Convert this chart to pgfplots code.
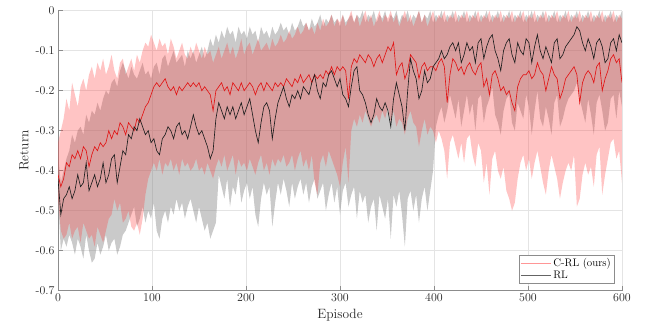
\documentclass[border=0pt]{standalone}
\usepackage{pgfplots}
\usepackage{pgfplotstable}
\pgfplotsset{compat=1.18}
\usepgfplotslibrary{fillbetween}
\definecolor{redfill}{RGB}{255,60,60}
\definecolor{grayfill}{RGB}{128,128,128}
\definecolor{redline}{RGB}{225,20,20}
\definecolor{blkline}{RGB}{30,30,30}
\definecolor{gridc}{RGB}{228,228,228}
\definecolor{axc}{RGB}{140,140,140}
\definecolor{legred}{RGB}{255,150,150}
\definecolor{leggray}{RGB}{100,100,100}
\pgfplotstableread{
x rm ru rl km ku kl
0 -0.41 -0.33 -0.47 -0.42 -0.36 -0.46
3 -0.44 -0.30 -0.55 -0.51 -0.43 -0.60
6 -0.42 -0.27 -0.57 -0.47 -0.40 -0.57
9 -0.38 -0.22 -0.56 -0.46 -0.37 -0.59
12 -0.39 -0.25 -0.53 -0.44 -0.35 -0.56
15 -0.36 -0.18 -0.57 -0.47 -0.31 -0.58
18 -0.37 -0.21 -0.55 -0.45 -0.33 -0.61
21 -0.35 -0.24 -0.54 -0.41 -0.30 -0.57
24 -0.37 -0.19 -0.58 -0.44 -0.29 -0.59
27 -0.34 -0.17 -0.53 -0.43 -0.31 -0.62
30 -0.35 -0.20 -0.55 -0.38 -0.26 -0.56
33 -0.39 -0.16 -0.57 -0.45 -0.28 -0.60
36 -0.36 -0.14 -0.56 -0.43 -0.25 -0.63
39 -0.34 -0.17 -0.59 -0.41 -0.26 -0.62
42 -0.35 -0.13 -0.54 -0.44 -0.23 -0.58
45 -0.33 -0.15 -0.56 -0.42 -0.25 -0.61
48 -0.34 -0.12 -0.58 -0.38 -0.22 -0.59
51 -0.33 -0.16 -0.55 -0.43 -0.20 -0.56
54 -0.30 -0.14 -0.52 -0.41 -0.21 -0.60
57 -0.32 -0.11 -0.51 -0.37 -0.18 -0.58
60 -0.30 -0.15 -0.47 -0.36 -0.17 -0.57
63 -0.31 -0.17 -0.50 -0.43 -0.19 -0.61
66 -0.28 -0.13 -0.48 -0.39 -0.15 -0.59
69 -0.29 -0.12 -0.53 -0.35 -0.13 -0.56
72 -0.31 -0.16 -0.52 -0.36 -0.15 -0.55
75 -0.28 -0.14 -0.50 -0.31 -0.17 -0.53
78 -0.29 -0.12 -0.54 -0.32 -0.14 -0.51
81 -0.30 -0.15 -0.55 -0.29 -0.16 -0.49
84 -0.27 -0.11 -0.53 -0.30 -0.17 -0.54
87 -0.28 -0.13 -0.56 -0.27 -0.15 -0.52
90 -0.26 -0.10 -0.52 -0.29 -0.13 -0.49
93 -0.24 -0.08 -0.46 -0.31 -0.16 -0.53
96 -0.23 -0.09 -0.42 -0.30 -0.15 -0.50
99 -0.21 -0.06 -0.40 -0.33 -0.17 -0.52
102 -0.19 -0.08 -0.38 -0.32 -0.14 -0.48
105 -0.18 -0.10 -0.40 -0.35 -0.13 -0.55
108 -0.19 -0.07 -0.37 -0.36 -0.16 -0.57
111 -0.18 -0.09 -0.41 -0.32 -0.12 -0.52
114 -0.17 -0.08 -0.38 -0.31 -0.11 -0.50
117 -0.19 -0.11 -0.39 -0.29 -0.14 -0.53
120 -0.20 -0.07 -0.37 -0.30 -0.12 -0.49
123 -0.19 -0.09 -0.40 -0.32 -0.10 -0.51
126 -0.21 -0.12 -0.38 -0.29 -0.13 -0.47
129 -0.19 -0.10 -0.41 -0.28 -0.12 -0.50
132 -0.20 -0.08 -0.37 -0.31 -0.11 -0.48
135 -0.19 -0.11 -0.39 -0.30 -0.14 -0.52
138 -0.18 -0.12 -0.38 -0.32 -0.10 -0.49
141 -0.19 -0.09 -0.40 -0.29 -0.12 -0.47
144 -0.18 -0.11 -0.39 -0.26 -0.10 -0.50
147 -0.19 -0.08 -0.37 -0.29 -0.13 -0.53
150 -0.18 -0.10 -0.40 -0.31 -0.11 -0.49
153 -0.20 -0.12 -0.39 -0.30 -0.09 -0.52
156 -0.19 -0.09 -0.41 -0.32 -0.12 -0.55
159 -0.20 -0.11 -0.38 -0.34 -0.10 -0.53
162 -0.21 -0.10 -0.40 -0.37 -0.07 -0.57
165 -0.25 -0.13 -0.42 -0.35 -0.09 -0.55
168 -0.20 -0.11 -0.39 -0.27 -0.06 -0.53
171 -0.19 -0.09 -0.37 -0.23 -0.08 -0.41
174 -0.18 -0.12 -0.39 -0.25 -0.05 -0.44
177 -0.20 -0.10 -0.36 -0.27 -0.07 -0.47
180 -0.19 -0.08 -0.40 -0.24 -0.04 -0.42
183 -0.21 -0.11 -0.38 -0.26 -0.06 -0.49
186 -0.18 -0.09 -0.36 -0.24 -0.05 -0.44
189 -0.19 -0.12 -0.41 -0.27 -0.08 -0.46
192 -0.20 -0.10 -0.37 -0.25 -0.04 -0.41
195 -0.18 -0.07 -0.39 -0.23 -0.06 -0.48
198 -0.20 -0.11 -0.38 -0.26 -0.05 -0.45
201 -0.19 -0.09 -0.40 -0.24 -0.07 -0.43
204 -0.18 -0.08 -0.37 -0.22 -0.04 -0.47
207 -0.19 -0.11 -0.39 -0.26 -0.06 -0.44
210 -0.21 -0.09 -0.41 -0.30 -0.05 -0.51
213 -0.19 -0.07 -0.38 -0.33 -0.08 -0.54
216 -0.18 -0.10 -0.36 -0.28 -0.04 -0.47
219 -0.20 -0.09 -0.40 -0.24 -0.06 -0.43
222 -0.18 -0.08 -0.38 -0.23 -0.05 -0.46
225 -0.19 -0.10 -0.41 -0.25 -0.07 -0.44
228 -0.20 -0.07 -0.37 -0.32 -0.04 -0.54
231 -0.18 -0.09 -0.39 -0.27 -0.06 -0.48
234 -0.19 -0.08 -0.37 -0.23 -0.05 -0.43
237 -0.18 -0.06 -0.38 -0.21 -0.03 -0.46
240 -0.19 -0.08 -0.36 -0.19 -0.05 -0.42
243 -0.17 -0.07 -0.39 -0.22 -0.04 -0.45
246 -0.18 -0.05 -0.38 -0.24 -0.06 -0.49
249 -0.19 -0.07 -0.36 -0.21 -0.03 -0.43
252 -0.17 -0.06 -0.40 -0.22 -0.05 -0.47
255 -0.18 -0.04 -0.37 -0.20 -0.04 -0.44
258 -0.16 -0.06 -0.35 -0.22 -0.02 -0.42
261 -0.18 -0.05 -0.39 -0.19 -0.04 -0.46
264 -0.17 -0.03 -0.37 -0.20 -0.03 -0.43
267 -0.16 -0.05 -0.40 -0.21 -0.05 -0.48
270 -0.18 -0.04 -0.36 -0.18 -0.02 -0.44
273 -0.16 -0.06 -0.43 -0.16 -0.04 -0.42
276 -0.17 -0.03 -0.46 -0.20 -0.03 -0.47
279 -0.16 -0.05 -0.38 -0.22 -0.01 -0.45
282 -0.17 -0.02 -0.36 -0.18 -0.04 -0.43
285 -0.15 -0.04 -0.39 -0.19 -0.02 -0.50
288 -0.16 -0.03 -0.35 -0.16 -0.03 -0.46
291 -0.14 -0.01 -0.37 -0.15 -0.01 -0.43
294 -0.16 -0.04 -0.39 -0.17 -0.03 -0.48
297 -0.14 -0.02 -0.41 -0.19 -0.02 -0.44
300 -0.15 -0.03 -0.44 -0.17 -0.04 -0.51
303 -0.14 -0.01 -0.38 -0.21 -0.01 -0.45
306 -0.15 -0.04 -0.34 -0.22 -0.03 -0.43
309 -0.22 -0.02 -0.43 -0.24 -0.02 -0.49
312 -0.14 0.00 -0.30 -0.19 -0.01 -0.46
315 -0.12 -0.03 -0.27 -0.15 -0.03 -0.44
318 -0.13 -0.01 -0.29 -0.14 -0.01 -0.52
321 -0.11 -0.04 -0.26 -0.20 -0.02 -0.45
324 -0.12 -0.02 -0.28 -0.21 0.00 -0.48
327 -0.13 0.00 -0.25 -0.23 -0.03 -0.46
330 -0.11 -0.03 -0.27 -0.26 -0.01 -0.53
333 -0.12 -0.01 -0.29 -0.28 -0.02 -0.49
336 -0.14 -0.04 -0.27 -0.26 0.00 -0.47
339 -0.12 -0.02 -0.26 -0.22 -0.03 -0.55
342 -0.11 0.00 -0.28 -0.24 -0.01 -0.46
345 -0.13 -0.03 -0.25 -0.25 -0.02 -0.49
348 -0.11 -0.01 -0.27 -0.23 0.00 -0.52
351 -0.09 -0.02 -0.24 -0.25 -0.03 -0.47
354 -0.10 0.00 -0.28 -0.29 -0.01 -0.57
357 -0.08 -0.03 -0.25 -0.22 -0.02 -0.46
360 -0.16 -0.01 -0.29 -0.18 0.00 -0.49
363 -0.14 -0.04 -0.27 -0.21 -0.03 -0.45
366 -0.13 -0.02 -0.28 -0.24 -0.01 -0.51
369 -0.17 0.00 -0.31 -0.30 -0.02 -0.59
372 -0.15 -0.03 -0.27 -0.20 0.00 -0.47
375 -0.11 -0.01 -0.25 -0.12 -0.03 -0.45
378 -0.12 -0.04 -0.28 -0.15 -0.01 -0.50
381 -0.13 -0.02 -0.29 -0.17 -0.02 -0.46
384 -0.17 0.00 -0.34 -0.22 0.00 -0.53
387 -0.14 -0.03 -0.30 -0.20 -0.03 -0.47
390 -0.13 -0.01 -0.27 -0.15 -0.01 -0.44
393 -0.15 -0.04 -0.31 -0.18 -0.02 -0.50
396 -0.14 -0.02 -0.29 -0.17 0.00 -0.45
399 -0.14 0.00 -0.30 -0.14 -0.03 -0.40
402 -0.15 -0.03 -0.33 -0.13 -0.01 -0.29
405 -0.13 -0.01 -0.30 -0.12 -0.02 -0.26
408 -0.12 -0.02 -0.32 -0.10 0.00 -0.24
411 -0.14 0.00 -0.35 -0.12 -0.03 -0.28
414 -0.23 -0.03 -0.42 -0.11 -0.01 -0.25
417 -0.16 -0.01 -0.33 -0.09 -0.02 -0.21
420 -0.12 -0.02 -0.31 -0.08 0.00 -0.24
423 -0.13 0.00 -0.34 -0.10 -0.03 -0.27
426 -0.15 -0.03 -0.37 -0.08 -0.01 -0.22
429 -0.14 -0.01 -0.33 -0.13 -0.02 -0.29
432 -0.16 -0.02 -0.38 -0.11 0.00 -0.25
435 -0.14 0.00 -0.32 -0.08 -0.03 -0.21
438 -0.13 -0.03 -0.31 -0.10 -0.01 -0.26
441 -0.15 -0.01 -0.36 -0.09 -0.02 -0.23
444 -0.16 -0.02 -0.39 -0.13 0.00 -0.30
447 -0.14 0.00 -0.33 -0.08 -0.03 -0.22
450 -0.13 -0.03 -0.35 -0.07 -0.01 -0.21
453 -0.19 -0.01 -0.43 -0.12 -0.02 -0.28
456 -0.17 -0.02 -0.38 -0.09 0.00 -0.24
459 -0.21 0.00 -0.46 -0.07 -0.03 -0.22
462 -0.16 -0.03 -0.37 -0.06 -0.01 -0.19
465 -0.15 -0.01 -0.35 -0.10 -0.02 -0.26
468 -0.17 -0.02 -0.40 -0.12 0.00 -0.28
471 -0.20 0.00 -0.42 -0.15 -0.03 -0.31
474 -0.19 -0.03 -0.39 -0.10 -0.01 -0.25
477 -0.21 -0.01 -0.45 -0.08 -0.02 -0.22
480 -0.20 -0.02 -0.47 -0.07 0.00 -0.21
483 -0.23 0.00 -0.50 -0.11 -0.03 -0.28
486 -0.25 -0.03 -0.48 -0.13 -0.01 -0.30
489 -0.19 -0.01 -0.42 -0.08 -0.02 -0.23
492 -0.17 -0.02 -0.38 -0.10 0.00 -0.25
495 -0.16 0.00 -0.36 -0.11 -0.03 -0.27
498 -0.16 -0.03 -0.40 -0.07 -0.01 -0.21
501 -0.15 -0.01 -0.37 -0.08 -0.02 -0.24
504 -0.17 -0.02 -0.42 -0.13 0.00 -0.31
507 -0.16 0.00 -0.38 -0.09 -0.03 -0.25
510 -0.13 -0.03 -0.35 -0.06 -0.01 -0.20
513 -0.15 -0.01 -0.39 -0.10 -0.02 -0.27
516 -0.16 -0.02 -0.43 -0.12 0.00 -0.29
519 -0.20 0.00 -0.46 -0.09 -0.03 -0.24
522 -0.17 -0.03 -0.40 -0.11 -0.01 -0.27
525 -0.14 -0.01 -0.36 -0.13 -0.02 -0.31
528 -0.16 -0.02 -0.39 -0.08 0.00 -0.23
531 -0.17 0.00 -0.42 -0.07 -0.03 -0.21
534 -0.22 -0.03 -0.47 -0.12 -0.01 -0.29
537 -0.20 -0.01 -0.43 -0.11 -0.02 -0.27
540 -0.17 -0.02 -0.40 -0.09 0.00 -0.24
543 -0.16 0.00 -0.38 -0.08 -0.03 -0.22
546 -0.15 -0.03 -0.40 -0.07 -0.01 -0.21
549 -0.14 -0.01 -0.36 -0.06 -0.02 -0.20
552 -0.16 -0.02 -0.49 -0.04 0.00 -0.18
555 -0.23 0.00 -0.47 -0.05 -0.03 -0.22
558 -0.18 -0.03 -0.41 -0.08 -0.01 -0.25
561 -0.16 -0.01 -0.38 -0.10 -0.02 -0.28
564 -0.15 -0.02 -0.41 -0.07 0.00 -0.22
567 -0.16 0.00 -0.39 -0.09 -0.03 -0.26
570 -0.18 -0.03 -0.44 -0.12 -0.01 -0.31
573 -0.14 -0.01 -0.36 -0.08 -0.02 -0.23
576 -0.13 -0.02 -0.34 -0.07 0.00 -0.21
579 -0.20 0.00 -0.46 -0.09 -0.03 -0.25
582 -0.17 -0.03 -0.41 -0.13 -0.01 -0.30
585 -0.15 -0.01 -0.37 -0.12 -0.02 -0.28
588 -0.12 -0.02 -0.33 -0.08 0.00 -0.22
591 -0.11 0.00 -0.32 -0.07 -0.03 -0.21
594 -0.13 -0.03 -0.37 -0.10 -0.01 -0.27
597 -0.12 -0.01 -0.35 -0.06 -0.02 -0.20
600 -0.18 -0.02 -0.43 -0.08 0.00 -0.24
}\data
\begin{document}
\begin{tikzpicture}
\begin{axis}[
  at={(0,0)}, anchor=south west,
  scale only axis, width=564bp, height=280bp,
  xmin=0, xmax=600, ymin=-0.7, ymax=0,
  axis x line=bottom, axis y line=left,
  axis line style={-, draw=axc, line width=0.6pt},
  tick align=inside, major tick length=5bp,
  tick style={axc, line width=0.6pt},
  grid=major, grid style={gridc, line width=0.5pt},
  xtick={0,100,200,300,400,500,600},
  ytick={-0.7,-0.6,-0.5,-0.4,-0.3,-0.2,-0.1,0},
  yticklabels={-0.7,-0.6,-0.5,-0.4,-0.3,-0.2,-0.1,0},
  ticklabel style={font=\fontsize{12}{14}\selectfont, text=black!85},
  xlabel={Episode}, ylabel={Return},
  label style={font=\fontsize{13.5}{16}\selectfont, text=black!85},
  legend cell align=left,
  legend style={at={(0.986,0.027)}, anchor=south east, draw=axc, fill=white,
    font=\fontsize{11}{13}\selectfont, inner sep=1pt, row sep=-1pt},
  legend image code/.code={\draw[#1] (0bp,0bp) -- (30bp,0bp);},
]
\addplot[name path=kU, draw=none, forget plot] table[x=x,y=ku]{\data};
\addplot[name path=kL, draw=none, forget plot] table[x=x,y=kl]{\data};
\addplot[fill=grayfill, fill opacity=0.42, draw=none, forget plot] fill between[of=kU and kL];
\addplot[name path=rU, draw=none, forget plot] table[x=x,y=ru]{\data};
\addplot[name path=rL, draw=none, forget plot] table[x=x,y=rl]{\data};
\addplot[fill=redfill, fill opacity=0.3, draw=none, forget plot] fill between[of=rU and rL];
\addplot[redline, line width=0.65pt, forget plot] table[x=x,y=rm]{\data};
\addplot[blkline, line width=0.65pt, forget plot] table[x=x,y=km]{\data};
\addlegendimage{legred, line width=1.1pt}
\addlegendentry{C-RL (ours)}
\addlegendimage{leggray, line width=0.6pt}
\addlegendentry{RL}
\end{axis}
\pgfresetboundingbox
\path[use as bounding box] (-58bp,-38.5bp) rectangle (593bp,290.7bp);
\end{tikzpicture}
\end{document}
